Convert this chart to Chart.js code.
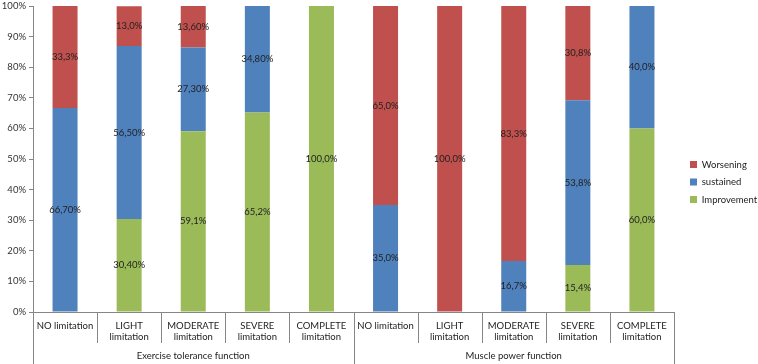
<!DOCTYPE html>
<html>
<head>
<meta charset="utf-8">
<script src="https://cdn.jsdelivr.net/npm/chart.js@4.4.1/dist/chart.umd.min.js"></script>
<style>
    html, body { margin: 0; padding: 0; background: #fff; }
    #wrap { width: 758px; height: 364px; position: relative; }
</style>
</head>
<body>
<div id="wrap"><canvas id="outcomeChart"></canvas></div>
<script>
const categories = [
    ['NO limitation'], ['LIGHT', 'limitation'], ['MODERATE', 'limitation'], ['SEVERE', 'limitation'], ['COMPLETE', 'limitation'],
    ['NO limitation'], ['LIGHT', 'limitation'], ['MODERATE', 'limitation'], ['SEVERE', 'limitation'], ['COMPLETE', 'limitation']
];
const groups = ['Exercise tolerance function', 'Muscle power function'];
const groupSize = 5;

const improvement = [0, 30.4, 59.1, 65.2, 100, 0, 0, 0, 15.4, 60.0];
const sustained   = [66.7, 56.5, 27.3, 34.8, 0, 35.0, 0, 16.7, 53.8, 40.0];
const worsening   = [33.3, 13.0, 13.6, 0, 0, 65.0, 100, 83.3, 30.8, 0];

const improvementLabels = ['', '30,40%', '59,1%', '65,2%', '100,0%', '', '', '', '15,4%', '60,0%'];
const sustainedLabels   = ['66,70%', '56,50%', '27,30%', '34,80%', '', '35,0%', '', '16,7%', '53,8%', '40,0%'];
const worseningLabels   = ['33,3%', '13,0%', '13,60%', '', '', '65,0%', '100,0%', '83,3%', '30,8%', ''];

const yTicks = [0, 10, 20, 30, 40, 50, 60, 70, 80, 90, 100];

const FONT = 'Lato, "DejaVu Sans", sans-serif';
const FONT_SIZE = 9.5;
const AXIS_COLOR = '#868686';

// labels in the middle of each segment
const segmentLabels = {
    id: 'segmentLabels',
    afterDatasetsDraw(chart) {
        const ctx = chart.ctx;
        ctx.save();
        ctx.font = FONT_SIZE + 'px ' + FONT;
        ctx.fillStyle = '#222';
        ctx.textAlign = 'center';
        ctx.textBaseline = 'middle';
        chart.data.datasets.forEach((ds, di) => {
            const meta = chart.getDatasetMeta(di);
            meta.data.forEach((bar, i) => {
                if (!ds.data[i]) return;
                ctx.fillText(ds.valueLabels[i], bar.x, (bar.y + bar.base) / 2);
            });
        });
        ctx.restore();
    }
};

// separators and group names under the category axis
const groupAxis = {
    id: 'groupAxis',
    afterDraw(chart) {
        const x = chart.scales.x;
        const ctx = chart.ctx;
        const top = chart.chartArea.bottom;
        const step = x.getPixelForValue(1) - x.getPixelForValue(0);
        ctx.save();
        ctx.strokeStyle = AXIS_COLOR;
        ctx.lineWidth = 1;
        for (let i = 0; i <= categories.length; i++) {
            const px = Math.round(x.getPixelForValue(i) - step / 2) + 0.5;
            const outer = i % groupSize === 0;
            ctx.beginPath();
            ctx.moveTo(px, top);
            ctx.lineTo(px, outer ? chart.height : top + 31);
            ctx.stroke();
        }
        ctx.font = FONT_SIZE + 'px ' + FONT;
        ctx.fillStyle = '#222';
        ctx.textAlign = 'center';
        ctx.textBaseline = 'middle';
        groups.forEach((g, gi) => {
            const cx = (x.getPixelForValue(gi * groupSize) + x.getPixelForValue(gi * groupSize + groupSize - 1)) / 2;
            ctx.fillText(g, cx, top + 44);
        });
        ctx.restore();
    }
};

const legendPlace = {
    id: 'legendPlace',
    beforeInit(chart) {
        const fit = chart.legend.fit;
        chart.legend.fit = function() {
            fit.call(this);
            this.width = 84;
        };
    },
    afterLayout(chart) {
        chart.legend.left += 8;
    }
};

const ctx = document.getElementById('outcomeChart').getContext('2d');
new Chart(ctx, {
    type: 'bar',
    data: {
        labels: categories,
        datasets: [
            { label: 'Improvement', data: improvement, valueLabels: improvementLabels, backgroundColor: '#9BBB59' },
            { label: 'sustained', data: sustained, valueLabels: sustainedLabels, backgroundColor: '#4F81BD' },
            { label: 'Worsening', data: worsening, valueLabels: worseningLabels, backgroundColor: '#C0504D' }
        ]
    },
    options: {
        responsive: true,
        maintainAspectRatio: false,
        animation: false,
        barPercentage: 0.39,
        categoryPercentage: 1,
        layout: { padding: 0 },
        scales: {
            x: {
                stacked: true,
                grid: { display: false },
                border: { color: AXIS_COLOR },
                ticks: {
                    padding: 0,
                    color: '#222',
                    autoSkip: false,
                    maxRotation: 0,
                    minRotation: 0,
                    font: { family: FONT, size: FONT_SIZE }
                },
                afterFit(scale) { scale.height = 52; }
            },
            y: {
                stacked: true,
                min: 0,
                max: 100,
                afterBuildTicks(scale) { scale.ticks = yTicks.map(v => ({ value: v })); },
                grid: { drawOnChartArea: false, tickLength: 4, color: AXIS_COLOR },
                border: { color: AXIS_COLOR },
                ticks: {
                    padding: 3,
                    color: '#333',
                    font: { family: FONT, size: FONT_SIZE },
                    callback: value => value + '%'
                },
                afterFit(scale) {
                    scale.width = 33;
                    scale.paddingTop = 6;
                }
            }
        },
        plugins: {
            legend: {
                position: 'right',
                reverse: true,
                labels: {
                    boxWidth: 7,
                    boxHeight: 7,
                    padding: 8,
                    color: '#222',
                    font: { family: FONT, size: FONT_SIZE }
                }
            },
            tooltip: { enabled: false }
        }
    },
    plugins: [segmentLabels, groupAxis, legendPlace]
});
</script>
</body>
</html>
